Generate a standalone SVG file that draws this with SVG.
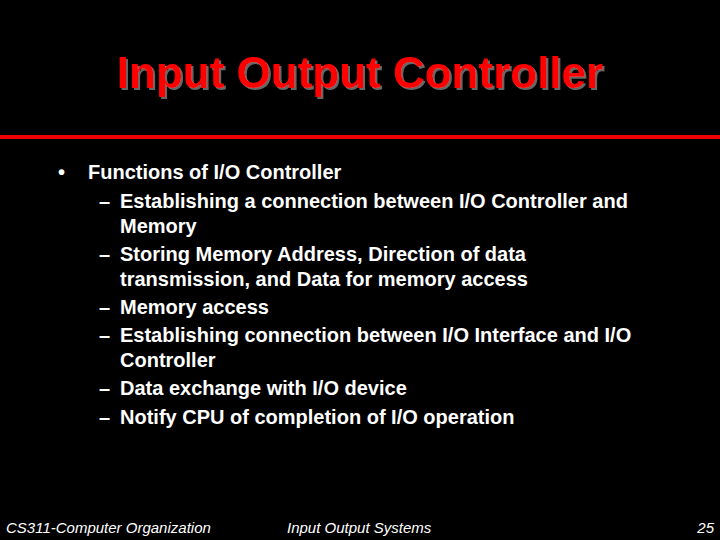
<svg xmlns="http://www.w3.org/2000/svg" width="720" height="540" viewBox="0 0 720 540">
<style>
.t{font-family:"Liberation Sans",Arial,sans-serif;font-weight:bold;font-size:44px;text-anchor:middle}
.b{font-family:"Liberation Sans",Arial,sans-serif;font-weight:bold;font-size:20px;fill:#fff}
.f{font-family:"Liberation Sans",Arial,sans-serif;font-style:italic;font-size:15px;fill:#fff}
</style>
<defs>
<filter id="sh" x="-5%" y="-20%" width="110%" height="140%">
<feOffset in="SourceAlpha" dx="2" dy="2" result="o"/>
<feFlood flood-color="#666"/>
<feComposite in2="o" operator="in" result="s"/>
<feMerge><feMergeNode in="s"/><feMergeNode in="SourceGraphic"/></feMerge>
</filter>
</defs>
<rect width="720" height="540" fill="#000"/>
<g id="title">
<text class="t" x="360" y="88" fill="#f00" filter="url(#sh)">Input Output Controller</text>
</g>
<rect x="0" y="135" width="720" height="4" fill="#e00"/>
<g id="body" class="b">
<text x="58" y="179">•</text>
<text x="88" y="179">Functions of I/O Controller</text>
<text x="99" y="208">–</text><text x="120" y="208">Establishing a connection between I/O Controller and</text>
<text x="120" y="233">Memory</text>
<text x="99" y="261">–</text><text x="120" y="261">Storing Memory Address, Direction of data</text>
<text x="120" y="286">transmission, and Data for memory access</text>
<text x="99" y="314">–</text><text x="120" y="314">Memory access</text>
<text x="99" y="342">–</text><text x="120" y="342">Establishing connection between I/O Interface and I/O</text>
<text x="120" y="367">Controller</text>
<text x="99" y="395">–</text><text x="120" y="395">Data exchange with I/O device</text>
<text x="99" y="424">–</text><text x="120" y="424">Notify CPU  of completion of I/O operation</text>
</g>
<g id="footer" class="f">
<text x="6" y="533">CS311-Computer Organization</text>
<text x="287" y="533">Input Output Systems</text>
<text x="714" y="533" text-anchor="end">25</text>
</g>
</svg>
